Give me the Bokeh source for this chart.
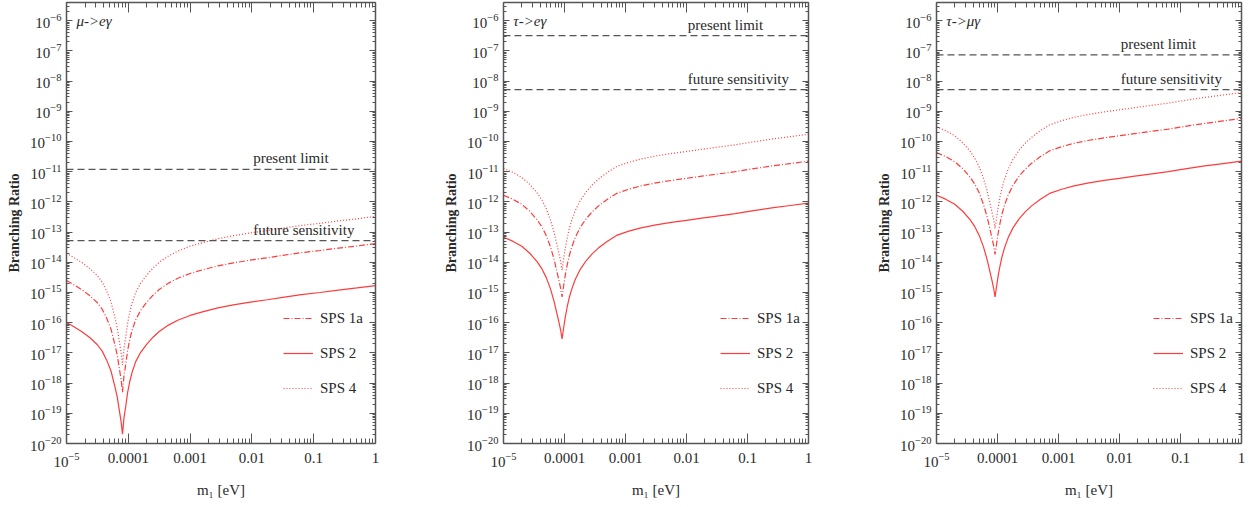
from bokeh.plotting import figure
from bokeh.layouts import row
from bokeh.models import (Range1d, LogAxis, FixedTicker, LogTicker, LogTickFormatter,
                          Span, Label, Legend, LegendItem)
from bokeh.embed import file_html
from bokeh.resources import INLINE

# ---------------- data, read off the log-log reference as decimal exponents ----------------
# log10(m1 / eV)
m1_mu_log10 = [-5.00, -4.90, -4.75, -4.62, -4.50, -4.42, -4.35, -4.28, -4.22, -4.18, -4.14, -4.115,
               -4.094, -4.07, -4.04, -4.01, -3.98, -3.94, -3.88, -3.80, -3.70, -3.60, -3.50, -3.35,
               -3.20, -3.00, -2.80, -2.55, -2.30, -2.00, -1.75, -1.50, -1.20, -0.90, -0.60, -0.30, 0.00]
m1_tau_log10 = [-5.00, -4.85, -4.70, -4.57, -4.45, -4.37, -4.30, -4.23, -4.17, -4.13, -4.09, -4.063,
                -4.040, -4.016, -3.986, -3.956, -3.926, -3.886, -3.826, -3.746, -3.646, -3.546, -3.446,
                -3.296, -3.146, -2.946, -2.746, -2.50, -2.25, -2.00, -1.75, -1.50, -1.20, -0.90, -0.60,
                -0.30, 0.00]

# log10(Branching Ratio):  mu -> e gamma
mueg_sps1a = [-14.60, -14.72, -14.91, -15.11, -15.34, -15.56, -15.85, -16.21, -16.70, -17.06, -17.58,
              -17.91, -18.30, -17.76, -17.36, -16.91, -16.59, -16.26, -15.90, -15.59, -15.32, -15.09,
              -14.90, -14.69, -14.53, -14.37, -14.25, -14.12, -14.02, -13.92, -13.85, -13.77, -13.68,
              -13.61, -13.53, -13.46, -13.38]
mueg_sps2 = [-15.99, -16.11, -16.30, -16.50, -16.73, -16.95, -17.24, -17.60, -18.09, -18.45, -18.97,
             -19.30, -19.69, -19.15, -18.75, -18.30, -17.98, -17.65, -17.29, -16.98, -16.71, -16.48,
             -16.29, -16.08, -15.92, -15.76, -15.64, -15.51, -15.41, -15.31, -15.24, -15.16, -15.07,
             -15.00, -14.92, -14.85, -14.77]
mueg_sps4 = [-13.70, -13.82, -14.01, -14.21, -14.44, -14.66, -14.95, -15.31, -15.80, -16.16, -16.68,
             -17.01, -17.40, -16.86, -16.46, -16.01, -15.69, -15.36, -15.00, -14.69, -14.42, -14.19,
             -14.00, -13.79, -13.63, -13.47, -13.35, -13.22, -13.12, -13.02, -12.95, -12.87, -12.78,
             -12.71, -12.63, -12.56, -12.48]

# tau -> e gamma
taueg_sps1a = [-11.78, -11.91, -12.08, -12.31, -12.59, -12.83, -13.11, -13.49, -13.91, -14.26, -14.61,
               -14.86, -15.15, -14.81, -14.41, -14.09, -13.81, -13.53, -13.19, -12.86, -12.56, -12.33,
               -12.14, -11.91, -11.72, -11.58, -11.47, -11.37, -11.29, -11.22, -11.15, -11.08, -11.00,
               -10.90, -10.81, -10.73, -10.65]
taueg_sps2 = [-13.17, -13.30, -13.47, -13.70, -13.98, -14.22, -14.50, -14.88, -15.30, -15.65, -16.00,
              -16.25, -16.54, -16.20, -15.80, -15.48, -15.20, -14.92, -14.58, -14.25, -13.95, -13.72,
              -13.53, -13.30, -13.11, -12.97, -12.86, -12.76, -12.68, -12.61, -12.54, -12.47, -12.39,
              -12.29, -12.20, -12.12, -12.04]
taueg_sps4 = [-10.89, -11.02, -11.19, -11.42, -11.70, -11.94, -12.22, -12.60, -13.02, -13.37, -13.72,
              -13.97, -14.26, -13.92, -13.52, -13.20, -12.92, -12.64, -12.30, -11.97, -11.67, -11.44,
              -11.25, -11.02, -10.83, -10.69, -10.58, -10.48, -10.40, -10.33, -10.26, -10.19, -10.11,
              -10.01, -9.92, -9.84, -9.76]

# tau -> mu gamma
taumg_sps1a = [-10.37, -10.50, -10.67, -10.90, -11.18, -11.42, -11.70, -12.08, -12.50, -12.85, -13.20,
               -13.45, -13.74, -13.40, -13.00, -12.68, -12.40, -12.12, -11.78, -11.45, -11.15, -10.92,
               -10.73, -10.50, -10.31, -10.17, -10.06, -9.96, -9.88, -9.81, -9.74, -9.67, -9.59,
               -9.49, -9.40, -9.32, -9.24]
taumg_sps2 = [-11.78, -11.91, -12.08, -12.31, -12.59, -12.83, -13.11, -13.49, -13.91, -14.26, -14.61,
              -14.86, -15.15, -14.81, -14.41, -14.09, -13.81, -13.53, -13.19, -12.86, -12.56, -12.33,
              -12.14, -11.91, -11.72, -11.58, -11.47, -11.37, -11.29, -11.22, -11.15, -11.08, -11.00,
              -10.90, -10.81, -10.73, -10.65]
taumg_sps4 = [-9.51, -9.64, -9.81, -10.04, -10.32, -10.56, -10.84, -11.22, -11.64, -11.99, -12.34,
              -12.59, -12.88, -12.54, -12.14, -11.82, -11.54, -11.26, -10.92, -10.59, -10.29, -10.06,
              -9.87, -9.64, -9.45, -9.31, -9.20, -9.10, -9.02, -8.95, -8.88, -8.81, -8.73, -8.63,
              -8.54, -8.46, -8.38]

# experimental limits  [present, future]
mueg_limits = [1.2e-11, 5.2e-14]
taueg_limits = [3.2e-7, 5.2e-9]
taumg_limits = [7.4e-8, 5.2e-9]

panel_titles = ["\u03bc->e\u03b3", "\u03c4->e\u03b3", "\u03c4->\u03bc\u03b3"]
series_names = ["SPS 1a", "SPS 2", "SPS 4"]
limit_names = ["present limit", "future sensitivity"]

x_ticks = [1e-5, 1e-4, 1e-3, 1e-2, 1e-1, 1.0]
x_tick_labels = {1e-4: "0.0001", 1e-3: "0.001", 1e-2: "0.01", 1e-1: "0.1", 1.0: "1"}
y_ticks = [10.0 ** e for e in range(-20, -5)]

# ---------------- styling ----------------
FONT = "Liberation Serif"
RED = "#ff3b3b"
AXIS = "#555555"
TXT = "#2a2a2a"
FRAME_W = 309
FIG_H = 505

x_minor = [k * t for t in [1e-6] + x_ticks for k in range(2, 10)]
y_minor = [k * t for t in [1e-21] + y_ticks for k in range(2, 10)]


def pw(vals):
    return [10.0 ** v for v in vals]


def style_axis(ax, ticker, horizontal, show_labels):
    ax.ticker = ticker
    ax.formatter = LogTickFormatter(ticker=LogTicker())
    ax.axis_line_color = AXIS
    ax.axis_line_width = 1.5
    ax.major_tick_line_color = AXIS
    ax.minor_tick_line_color = AXIS
    ax.major_tick_out = 0
    ax.minor_tick_out = 0
    ax.major_tick_in = 10 if horizontal else 6
    ax.minor_tick_in = 5 if horizontal else 3
    if show_labels:
        ax.major_label_text_font = FONT
        ax.major_label_text_font_size = "15px"
        ax.major_label_text_color = TXT
        ax.axis_label_text_font = FONT
        ax.axis_label_text_color = TXT
        ax.axis_label_text_font_style = "normal"
    else:
        ax.major_label_text_font_size = "1px"
        ax.major_label_text_alpha = 0
        ax.major_label_standoff = 0


def make_panel(title, m1_log, s1a, s2, s4, limits, left_border, right_border, dot=None):
    p = figure(width=left_border + FRAME_W + right_border, height=FIG_H,
               x_axis_type="log", y_axis_type="log",
               x_range=Range1d(1e-5, 1.0), y_range=Range1d(1e-20, 4.0e-6),
               output_backend="svg", toolbar_location=None,
               min_border_left=left_border, min_border_right=right_border,
               min_border_top=2, min_border_bottom=62)
    p.grid.visible = False
    p.outline_line_color = None
    p.background_fill_color = "white"
    p.border_fill_color = "white"

    xa = p.xaxis[0]
    style_axis(xa, FixedTicker(ticks=x_ticks, minor_ticks=x_minor), True, True)
    xa.major_label_overrides = x_tick_labels
    xa.major_label_standoff = 9
    xa.axis_label = "m\u2081 [eV]"
    xa.axis_label_text_font_size = "15px"
    xa.axis_label_standoff = 12

    ya = p.yaxis[0]
    style_axis(ya, FixedTicker(ticks=y_ticks, minor_ticks=y_minor), False, True)
    ya.major_label_standoff = 5
    ya.axis_label = "Branching Ratio"
    ya.axis_label_text_font_size = "14px"
    ya.axis_label_text_font_style = "bold"
    ya.axis_label_standoff = 5

    top = LogAxis()
    style_axis(top, FixedTicker(ticks=x_ticks, minor_ticks=x_minor), True, False)
    p.add_layout(top, "above")
    right = LogAxis()
    style_axis(right, FixedTicker(ticks=y_ticks, minor_ticks=y_minor), False, False)
    p.add_layout(right, "right")

    m1 = pw(m1_log)
    r1 = p.line(m1, pw(s1a), line_color=RED, line_width=1.2, line_dash="6 2 1 2")
    r2 = p.line(m1, pw(s2), line_color=RED, line_width=1.2)
    r4 = p.line(m1, pw(s4), line_color=RED, line_width=1.2, line_dash="1 2")

    for lim in limits:
        p.add_layout(Span(location=lim, dimension="width", line_color="#555555",
                          line_width=1.3, line_dash="7 4"))
    for lim, txt in zip(limits, limit_names):
        p.add_layout(Label(x=1.05e-2, y=lim, text=txt, y_offset=11,
                           text_baseline="alphabetic", text_font=FONT,
                           text_font_size="15px", text_color=TXT))

    p.add_layout(Label(x=1.45e-5, y=1.0e-6, text=title, text_baseline="middle",
                       text_font=FONT, text_font_size="15px", text_color=TXT,
                       text_font_style="italic"))

    legend = Legend(items=[LegendItem(label=series_names[0], renderers=[r1]),
                           LegendItem(label=series_names[1], renderers=[r2]),
                           LegendItem(label=series_names[2], renderers=[r4])],
                    location=(217, 45), border_line_color=None,
                    background_fill_alpha=0, padding=0, margin=0,
                    glyph_width=30, glyph_height=20, label_height=20,
                    spacing=15, label_standoff=7,
                    label_text_font=FONT, label_text_font_size="15px",
                    label_text_color=TXT)
    p.add_layout(legend)

    if dot is not None:
        p.add_layout(Label(x=dot[0], y=dot[1], x_units="canvas", y_units="canvas",
                           text="\u25cf", text_font=FONT,
                           text_font_size="11px", text_color="black",
                           text_align="center", text_baseline="middle"))
    return p


p1 = make_panel(panel_titles[0], m1_mu_log10, mueg_sps1a, mueg_sps2, mueg_sps4, mueg_limits, 66, 66)
p2 = make_panel(panel_titles[1], m1_tau_log10, taueg_sps1a, taueg_sps2, taueg_sps4, taueg_limits, 58, 66)
p3 = make_panel(panel_titles[2], m1_tau_log10, taumg_sps1a, taumg_sps2, taumg_sps4, taumg_limits, 58, 4,
                dot=(7, 97))

layout = row(p1, p2, p3)
open("out.html", "w").write(file_html(layout, INLINE))
